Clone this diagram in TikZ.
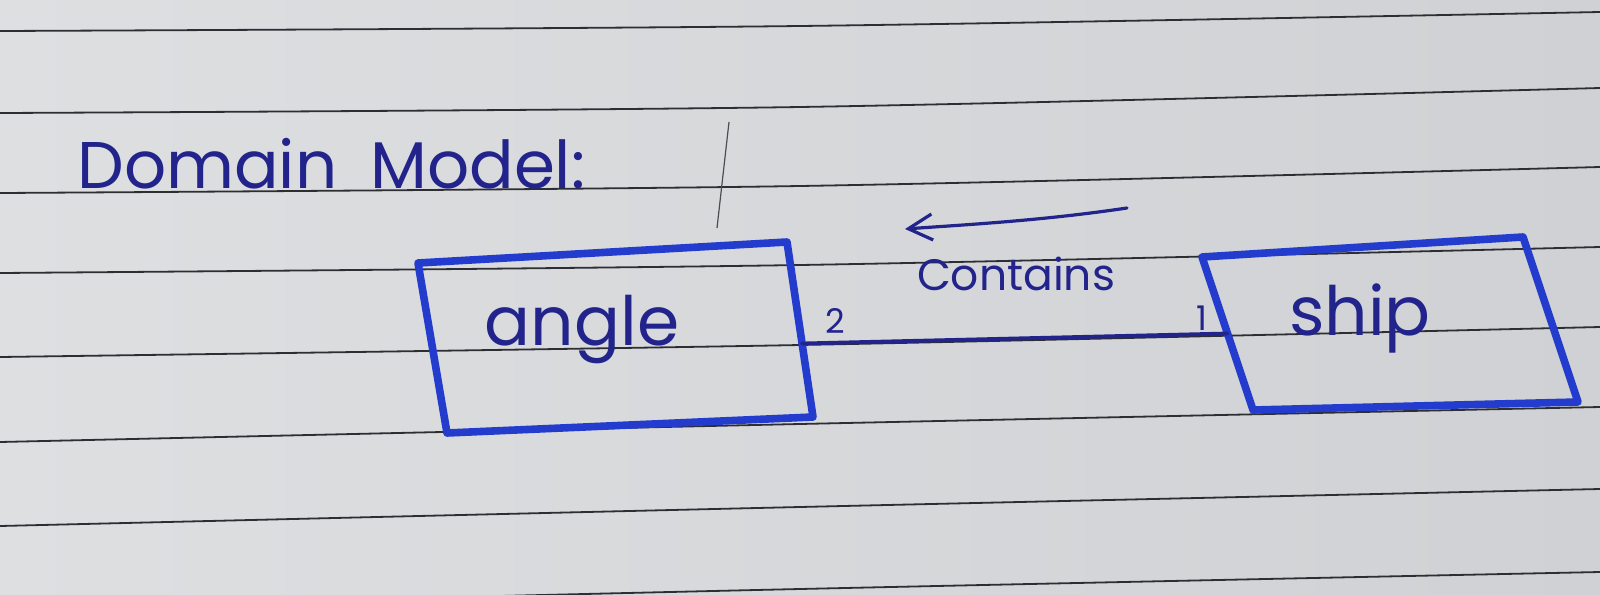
\documentclass[tikz,border=0pt]{standalone}
\usepackage{fontspec}
\setmainfont{Poppins}
\usetikzlibrary{arrows.meta,calc}
\definecolor{paper}{RGB}{207,209,212}
\definecolor{paperlight}{RGB}{221,223,225}
\definecolor{rulecol}{RGB}{45,45,52}
\definecolor{marker}{RGB}{36,60,205}
\definecolor{ink}{RGB}{34,36,140}
\begin{document}
\begin{tikzpicture}[x=0.5pt,y=-0.5pt,
  ruling/.style={draw=rulecol, line width=0.9pt},
  boxedge/.style={draw=marker, line width=3.8pt, line join=round, line cap=round},
  conn/.style={draw=ink, line width=1.9pt, line cap=round},
  arrowline/.style={draw=ink, line width=1.6pt, line cap=round, -{Straight Barb[length=12pt,width=13pt,line width=1.6pt]}},
  hand/.style={text=ink, inner sep=0pt},
  bigtext/.style={hand, font=\fontsize{34}{34}\selectfont},
  midtext/.style={hand, font=\fontsize{22}{22}\selectfont},
  smalltext/.style={hand, font=\fontsize{17}{17}\selectfont},
  stray/.style={draw=rulecol!85, line width=0.6pt}]
\useasboundingbox (0,0) rectangle (1600,594);
\shade[left color=paperlight, right color=paper] (0,0) rectangle (1600,594);
% ruled lines
\draw[ruling] plot[smooth] coordinates {(0,31) (800,26) (1600,12)};
\draw[ruling] plot[smooth] coordinates {(0,113) (800,107) (1600,88)};
\draw[ruling] plot[smooth] coordinates {(0,193) (800,186) (1600,167)};
\draw[ruling] plot[smooth] coordinates {(0,273) (800,265) (1600,247)};
\draw[ruling] plot[smooth] coordinates {(0,357) (800,345) (1600,327)};
\draw[ruling] plot[smooth] coordinates {(0,442) (800,424) (1600,407)};
\draw[ruling] plot[smooth] coordinates {(0,526) (800,507) (1600,489)};
\draw[ruling] plot[smooth] coordinates {(0,608) (800,589) (1600,572)};
% stray pen mark
\coordinate (strayA) at (729,122);
\coordinate (strayB) at (717,228);
\draw[stray] (strayA) -- (strayB);
% title
\node[hand, font=\fontsize{33}{33}\selectfont, anchor=base west] (title) at (77,188) {Domain\hspace{0.5em}Model:};
% angle box
\coordinate (a1) at (418,263);
\coordinate (a2) at (787,242);
\coordinate (a3) at (813,417);
\coordinate (a4) at (447,433);
\draw[boxedge] (a1) -- (a2) -- (a3) -- (a4) -- cycle;
\node[bigtext, anchor=base] (angle) at (582,345) {angle};
% ship box
\coordinate (s1) at (1202,257);
\coordinate (s2) at (1523,237);
\coordinate (s3) at (1578,402);
\coordinate (s4) at (1253,410);
\draw[boxedge] (s1) -- (s2) -- (s3) -- (s4) -- cycle;
\node[bigtext, anchor=base] (ship) at (1360,335) {ship};
% association
\coordinate (aR) at ($(a2)!0.58!(a3)$);
\coordinate (sL) at ($(s1)!0.5!(s4)$);
\draw[conn] (aR) -- (sL);
\node[smalltext, anchor=base] (m2) at (835,333) {2};
\node[smalltext, anchor=base] (m1) at (1202,330) {1};
\node[midtext, anchor=base] (contains) at (1016,290) {Contains};
% direction arrow
\coordinate (arT) at (1127,208);
\coordinate (arH) at (905,229);
\draw[arrowline] (arT) .. controls (1040,221) and (960,225) .. (arH);
\end{tikzpicture}
\end{document}
